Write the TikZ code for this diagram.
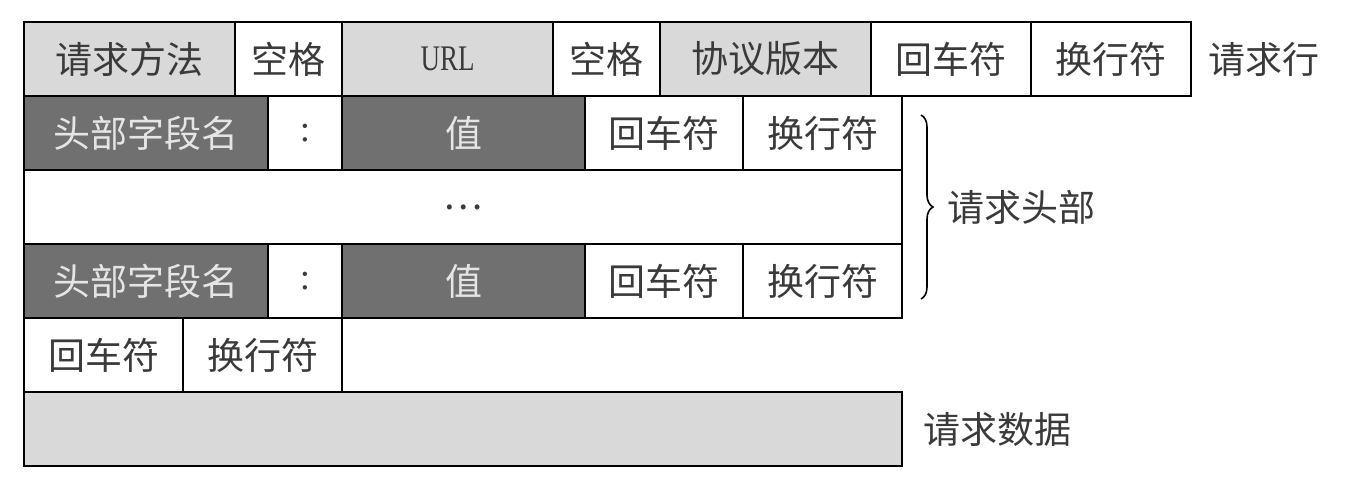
\documentclass[tikz,border=0pt]{standalone}
\usepackage{fontspec}
\setmainfont{Liberation Serif}
\newfontfamily\cjk{Noto Sans CJK SC}
\usepackage{tikz}
\usetikzlibrary{calc}
\usetikzlibrary{positioning}
\usetikzlibrary{decorations.pathreplacing}
\definecolor{lightcell}{HTML}{D9D9D9}
\definecolor{darkcell}{HTML}{707070}
\definecolor{inkgray}{HTML}{3A3A3A}

\begin{document}
\begin{tikzpicture}[
		cell/.style={draw, line width=1.1pt, inner sep=0pt, outer sep=0pt, minimum height=37pt, text=inkgray, font=\cjk\fontsize{18.5}{22}\selectfont},
		light/.style={cell, fill=lightcell},
		dark/.style={cell, fill=darkcell, text=white!90!black},
		plain/.style={cell, fill=white},
		side/.style={inner sep=0pt, outer sep=0pt, anchor=west, text=inkgray, font=\cjk\fontsize{18.5}{22}\selectfont}]
				\useasboundingbox (0,0) rectangle (681.5pt,-245pt);
				
				% request line
				\node[light, minimum width=105.5pt, anchor=north west] (method) at (12pt,-11pt) {请求方法};
				\node[plain, minimum width=53.5pt, right=0pt of method] (sp1) {空格};
				\node[light, minimum width=105.5pt, right=0pt of sp1] (url) {\rmfamily\fontsize{18}{20}\selectfont\scalebox{0.75}[1]{URL}};
				\node[plain, minimum width=53.5pt, right=0pt of url] (sp2) {空格};
				\node[light, minimum width=105.5pt, right=0pt of sp2] (version) {协议版本};
				\node[plain, minimum width=80pt, right=0pt of version] (cr1) {回车符};
				\node[plain, minimum width=80pt, right=0pt of cr1] (lf1) {换行符};
				\node[side, right=8.5pt of lf1] (lineLabel) {请求行};
				
				% header lines
				\node[dark, minimum width=122pt, anchor=north west] (hname1) at (method.south west) {头部字段名};
				\node[plain, minimum width=37pt, right=0pt of hname1] (colon1) {\rmfamily :};
				\node[dark, minimum width=121.5pt, right=0pt of colon1] (value1) {值};
				\node[plain, minimum width=79pt, right=0pt of value1] (cr2) {回车符};
				\node[plain, minimum width=79.5pt, right=0pt of cr2] (lf2) {换行符};
				
				\node[plain, minimum width=439pt, anchor=north west] (dots) at (hname1.south west) {…};
				
				\node[dark, minimum width=122pt, anchor=north west] (hname2) at (dots.south west) {头部字段名};
				\node[plain, minimum width=37pt, right=0pt of hname2] (colon2) {\rmfamily :};
				\node[dark, minimum width=121.5pt, right=0pt of colon2] (value2) {值};
				\node[plain, minimum width=79pt, right=0pt of value2] (cr3) {回车符};
				\node[plain, minimum width=79.5pt, right=0pt of cr3] (lf3) {换行符};
				
				\coordinate (btop) at ($(lf2.north east)+(9.5pt,-9.5pt)$);
				\coordinate (bbot) at ($(lf3.south east)+(9.5pt,9.5pt)$);
				\draw[line width=0.8pt, decorate, decoration={brace, amplitude=6pt}] (btop) -- (bbot);
				\node[side] (headLabel) at ($(btop)!0.5!(bbot)+(13pt,0)$) {请求头部};
				
				% empty line
				\node[plain, minimum width=79.5pt, anchor=north west] (cr4) at (hname2.south west) {回车符};
				\node[plain, minimum width=79.5pt, right=0pt of cr4] (lf4) {换行符};
				
				% body
				\node[light, minimum width=439pt, anchor=north west] (body) at (cr4.south west) {};
				\node[side, right=10.5pt of body] (bodyLabel) {请求数据};
			\end{tikzpicture}
\end{document}
